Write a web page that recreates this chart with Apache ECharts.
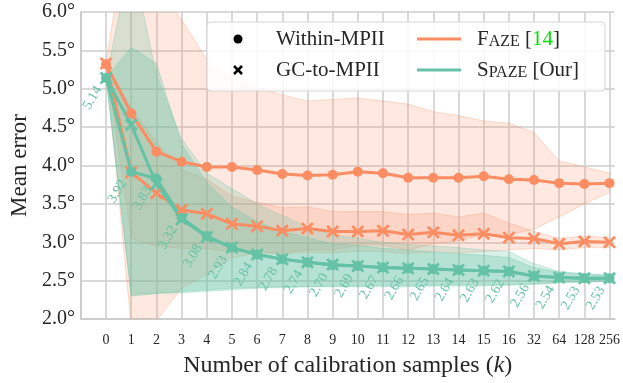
<!doctype html>
<html>
<head>
<meta charset="utf-8">
<title>Mean error vs calibration samples</title>
<script src="https://cdn.jsdelivr.net/npm/echarts@6/dist/echarts.min.js"></script>
<style>
  html, body { margin: 0; padding: 0; background: #fff; }
  #main { width: 623px; height: 383px; }
</style>
</head>
<body>
<div id="main"></div>
<script>
// x categories (number of calibration samples k)
var kLabels = ['0', '1', '2', '3', '4', '5', '6', '7', '8', '9', '10', '11', '12', '13', '14', '15', '16', '32', '64', '128', '256'];

// mean errors (degrees)
var fazeWithin  = [5.32, 4.68, 4.18, 4.05, 3.98, 3.98, 3.94, 3.89, 3.87, 3.88, 3.92, 3.90, 3.84, 3.84, 3.84, 3.86, 3.82, 3.81, 3.77, 3.76, 3.77];
var fazeGc      = [5.33, 3.91, 3.64, 3.42, 3.37, 3.24, 3.21, 3.15, 3.18, 3.14, 3.14, 3.15, 3.10, 3.13, 3.09, 3.11, 3.06, 3.05, 2.98, 3.01, 3.00];
var spazeWithin = [5.14, 3.92, 3.83, 3.32, 3.08, 2.93, 2.84, 2.78, 2.74, 2.70, 2.69, 2.67, 2.66, 2.65, 2.64, 2.63, 2.62, 2.56, 2.54, 2.53, 2.53];
var spazeGc     = [5.14, 4.53, 3.76, 3.30, 3.07, 2.93, 2.84, 2.78, 2.74, 2.71, 2.69, 2.67, 2.66, 2.65, 2.64, 2.63, 2.62, 2.56, 2.54, 2.53, 2.53];

// shaded spread (lower / upper edges)
var fazeWithinLo  = [5.32, 1.90, 1.98, 2.40, 2.58, 2.80, 2.86, 2.86, 2.90, 2.90, 2.96, 2.96, 2.90, 2.98, 3.02, 3.10, 3.10, 3.17, 3.33, 3.50, 3.65];
var fazeWithinHi  = [5.32, 7.46, 6.38, 5.90, 5.38, 5.15, 5.02, 4.92, 4.84, 4.86, 4.88, 4.84, 4.80, 4.70, 4.65, 4.58, 4.55, 4.43, 4.06, 3.98, 3.90];
var fazeGcLo      = [5.33, 3.05, 2.95, 2.92, 2.92, 2.88, 2.88, 2.85, 2.87, 2.86, 2.88, 2.88, 2.85, 2.88, 2.86, 2.88, 2.90, 2.92, 2.90, 2.93, 2.93];
var fazeGcHi      = [5.33, 4.75, 4.30, 3.95, 3.82, 3.60, 3.52, 3.45, 3.46, 3.40, 3.40, 3.40, 3.36, 3.38, 3.33, 3.38, 3.25, 3.14, 3.05, 3.08, 3.06];
var spazeWithinLo = [5.14, 2.30, 2.33, 2.36, 2.38, 2.40, 2.41, 2.42, 2.42, 2.42, 2.42, 2.42, 2.42, 2.43, 2.43, 2.43, 2.44, 2.45, 2.47, 2.48, 2.49];
var spazeWithinHi = [5.14, 5.54, 5.33, 4.28, 3.78, 3.46, 3.27, 3.14, 3.06, 2.98, 2.96, 2.92, 2.90, 2.87, 2.85, 2.83, 2.80, 2.67, 2.61, 2.58, 2.57];
var spazeGcLo     = [5.14, 2.32, 2.34, 2.34, 2.36, 2.38, 2.40, 2.41, 2.42, 2.43, 2.43, 2.44, 2.44, 2.44, 2.45, 2.45, 2.45, 2.46, 2.48, 2.49, 2.50];
var spazeGcHi     = [5.14, 6.74, 5.18, 4.35, 3.90, 3.70, 3.50, 3.35, 3.20, 3.10, 3.05, 3.00, 2.97, 2.95, 2.93, 2.90, 2.88, 2.72, 2.62, 2.59, 2.57];

var ORANGE = '#fc8d62';
var GREEN = '#66c2a5';
var TEXT = '#262626';
var GRID = '#cccccc';
var FONT = "'Liberation Serif', 'Times New Roman', serif";
var CROSS = 'path://M0,3L3,0L10,7L17,0L20,3L13,10L20,17L17,20L10,13L3,20L0,17L7,10Z';

function pairs(arr) {
    return arr.map(function (v, i) { return [i, v]; });
}

function band(lo, hi, fill, edge) {
    return {
        type: 'custom',
        silent: true,
        clip: true,
        data: [[0, lo[0]]],
        renderItem: function (params, api) {
            var pts = [];
            for (var i = 0; i < hi.length; i++) pts.push(api.coord([i, hi[i]]));
            for (var j = lo.length - 1; j >= 0; j--) pts.push(api.coord([j, lo[j]]));
            return {
                type: 'polygon',
                shape: { points: pts },
                style: { fill: fill, stroke: edge, lineWidth: 1 }
            };
        }
    };
}

function line(values, color, symbol, size) {
    return {
        type: 'line',
        data: pairs(values),
        symbol: symbol,
        symbolSize: size,
        showAllSymbol: true,
        lineStyle: { color: color, width: 3 },
        itemStyle: { color: color },
        silent: true
    };
}

// value labels, rotated; the offset is measured along the rotated text
var spazeLine = line(spazeWithin, GREEN, 'circle', 10);
spazeLine.label = {
    show: true,
    position: 'inside',
    align: 'center',
    verticalAlign: 'middle',
    rotate: 60,
    offset: [-24, -2],
    color: GREEN,
    fontFamily: FONT,
    fontSize: 14,
    formatter: function (p) { return p.value[1].toFixed(2); }
};

var chart = echarts.init(document.getElementById('main'));

chart.setOption({
    animation: false,
    backgroundColor: '#fff',
    grid: { left: 77, right: 8, top: 12, bottom: 62 },
    xAxis: {
        type: 'value',
        min: -1,
        max: 20.2,
        interval: 1,
        axisLine: { show: true, onZero: false, lineStyle: { color: GRID, width: 2 } },
        axisTick: { show: false },
        splitLine: { show: true, showMaxLine: false, lineStyle: { color: GRID, width: 1.5 } },
        axisLabel: {
            margin: 14,
            fontFamily: FONT,
            fontSize: 14,
            color: TEXT,
            formatter: function (v) {
                return (v >= 0 && v === Math.round(v) && v < kLabels.length) ? kLabels[v] : '';
            }
        },
        name: 'Number of calibration samples ({i|k})',
        nameLocation: 'middle',
        nameGap: 35,
        nameTextStyle: {
            fontFamily: FONT,
            fontSize: 24,
            color: TEXT,
            rich: { i: { fontFamily: FONT, fontSize: 24, fontStyle: 'italic', color: TEXT } }
        }
    },
    yAxis: {
        type: 'value',
        min: 2,
        max: 6,
        interval: 0.5,
        axisLine: { show: true, onZero: false, lineStyle: { color: GRID, width: 2 } },
        axisTick: { show: false },
        splitLine: { show: true, lineStyle: { color: GRID, width: 1.5 } },
        axisLabel: {
            margin: 6,
            fontFamily: FONT,
            fontSize: 20,
            color: TEXT,
            formatter: function (v) { return v.toFixed(1) + '°'; }
        },
        name: 'Mean error',
        nameLocation: 'middle',
        nameGap: 48,
        nameRotate: 90,
        nameTextStyle: { fontFamily: FONT, fontSize: 23, color: TEXT }
    },
    series: [
        band(fazeWithinLo, fazeWithinHi, 'rgba(252,141,98,0.2)', 'rgba(252,141,98,0.3)'),
        band(fazeGcLo, fazeGcHi, 'rgba(252,141,98,0.2)', 'rgba(252,141,98,0.3)'),
        band(spazeWithinLo, spazeWithinHi, 'rgba(102,194,165,0.3)', 'rgba(102,194,165,0.35)'),
        band(spazeGcLo, spazeGcHi, 'rgba(102,194,165,0.25)', 'rgba(102,194,165,0.3)'),
        line(fazeWithin, ORANGE, 'circle', 10),
        line(fazeGc, ORANGE, CROSS, 13),
        spazeLine,
        line(spazeGc, GREEN, CROSS, 13)
    ],
    graphic: [
        { type: 'rect', z: 100, shape: { x: 207, y: 22, width: 398, height: 69, r: 4 },
          style: { fill: 'rgba(255,255,255,0.85)', stroke: '#d6d6d6', lineWidth: 1 } },
        { type: 'circle', z: 101, shape: { cx: 238, cy: 39, r: 4.5 }, style: { fill: '#000' } },
        { type: 'line', z: 101, shape: { x1: 234, y1: 66, x2: 242, y2: 74 }, style: { stroke: '#000', lineWidth: 2.5 } },
        { type: 'line', z: 101, shape: { x1: 234, y1: 74, x2: 242, y2: 66 }, style: { stroke: '#000', lineWidth: 2.5 } },
        { type: 'text', z: 101, x: 276, y: 39,
          style: { text: 'Within-MPII', fontFamily: FONT, fontSize: 21, fill: TEXT, verticalAlign: 'middle' } },
        { type: 'text', z: 101, x: 276, y: 70,
          style: { text: 'GC-to-MPII', fontFamily: FONT, fontSize: 21, fill: TEXT, verticalAlign: 'middle' } },
        { type: 'line', z: 101, shape: { x1: 417, y1: 39, x2: 461, y2: 39 }, style: { stroke: ORANGE, lineWidth: 3 } },
        { type: 'line', z: 101, shape: { x1: 417, y1: 70, x2: 461, y2: 70 }, style: { stroke: GREEN, lineWidth: 3 } },
        { type: 'text', z: 101, x: 477, y: 39,
          style: {
              text: '{c|F}{s|AZE}{c| [}{g|14}{c|]}',
              verticalAlign: 'middle',
              rich: {
                  c: { fontFamily: FONT, fontSize: 21, fill: TEXT, verticalAlign: 'bottom', lineHeight: 22 },
                  s: { fontFamily: FONT, fontSize: 16, fill: TEXT, verticalAlign: 'bottom', lineHeight: 22 },
                  g: { fontFamily: FONT, fontSize: 21, fill: '#00e000', verticalAlign: 'bottom', lineHeight: 22 }
              }
          } },
        { type: 'text', z: 101, x: 477, y: 70,
          style: {
              text: '{c|S}{s|PAZE}{c| [Our]}',
              verticalAlign: 'middle',
              rich: {
                  c: { fontFamily: FONT, fontSize: 21, fill: TEXT, verticalAlign: 'bottom', lineHeight: 22 },
                  s: { fontFamily: FONT, fontSize: 16, fill: TEXT, verticalAlign: 'bottom', lineHeight: 22 }
              }
          } }
    ]
});
</script>
</body>
</html>
